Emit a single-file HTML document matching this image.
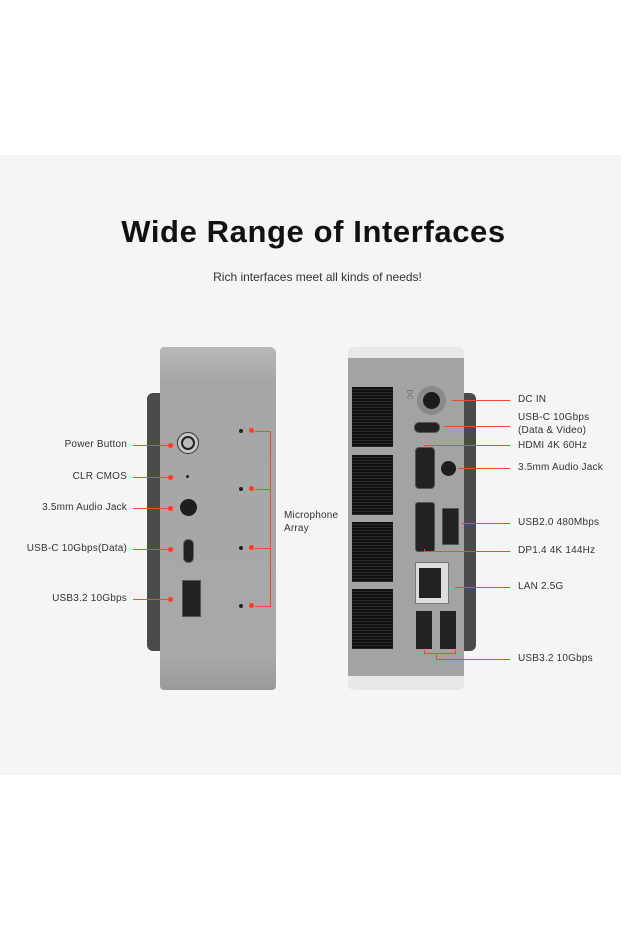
<!DOCTYPE html>
<html><head><style>
body{margin:0;width:621px;height:931px;background:#fff;position:relative;font-family:"Liberation Sans",sans-serif;overflow:hidden}
.a{position:absolute}
.band{left:0;top:155px;width:621px;height:620px;background:#f5f5f5}
.lbl{position:absolute;font-size:10px;color:#333;white-space:nowrap;letter-spacing:.2px}
.r{text-align:right}
.ln{position:absolute;height:0;border-top:1.5px solid #ef4a2a}
.dot{position:absolute;width:5px;height:5px;border-radius:50%;background:#ff3b1f}
.bd{position:absolute;width:4px;height:4px;border-radius:50%;background:#222}
.vl{position:absolute;width:0;border-left:1.5px solid #ef4a2a}
</style></head><body>
<div class="a band"></div>
<div class="a" style="left:0;top:214px;width:627px;text-align:center;font-size:31px;font-weight:bold;color:#111;letter-spacing:0.6px">Wide Range of Interfaces</div>
<div class="a" style="left:0;top:270px;width:635px;text-align:center;font-size:12px;color:#333">Rich interfaces meet all kinds of needs!</div>

<!-- left device -->
<div class="a" style="left:147px;top:393px;width:20px;height:258px;background:#4a4a4a;border-radius:6px 0 0 6px"></div>
<div class="a" style="left:160px;top:347px;width:116px;height:343px;background:linear-gradient(#b8b8b8,#a6a6a6 10%,#a8a8a8 90%,#9a9a9a);border-radius:4px 6px 4px 4px"></div>
<div class="a" style="left:177px;top:432px;width:22px;height:22px;border-radius:50%;border:1.5px solid #333;box-sizing:border-box;background:#c8c8c8"></div>
<div class="a" style="left:181px;top:436px;width:14px;height:14px;border-radius:50%;border:2px solid #222;box-sizing:border-box;background:#bbb"></div>
<div class="bd" style="left:186px;top:475px;width:3px;height:3px"></div>
<div class="a" style="left:180px;top:499px;width:17px;height:17px;border-radius:50%;background:#1e1e1e"></div>
<div class="a" style="left:183px;top:539px;width:9px;height:22px;border-radius:5px;background:#222;border:1px solid #666"></div>
<div class="a" style="left:182px;top:580px;width:17px;height:35px;background:#222;border:1px solid #555"></div>
<div class="bd" style="left:239px;top:429px"></div><div class="dot" style="left:249px;top:428px"></div>
<div class="bd" style="left:239px;top:487px"></div><div class="dot" style="left:249px;top:486px"></div>
<div class="bd" style="left:239px;top:546px"></div><div class="dot" style="left:249px;top:545px"></div>
<div class="bd" style="left:239px;top:604px"></div><div class="dot" style="left:249px;top:603px"></div>
<div class="ln" style="left:255px;top:431px;width:15px"></div>
<div class="ln" style="left:255px;top:489px;width:15px"></div>
<div class="ln" style="left:255px;top:548px;width:15px"></div>
<div class="ln" style="left:255px;top:606px;width:15px"></div>
<div class="vl" style="left:270px;top:431px;height:176px"></div>
<div class="lbl" style="left:284px;top:509px;line-height:13px">Microphone<br>Array</div>

<div class="lbl r" style="left:0;width:127px;top:439px">Power Button</div>
<div class="lbl r" style="left:0;width:127px;top:471px">CLR CMOS</div>
<div class="lbl r" style="left:0;width:127px;top:502px">3.5mm Audio Jack</div>
<div class="lbl r" style="left:0;width:127px;top:543px">USB-C 10Gbps(Data)</div>
<div class="lbl r" style="left:0;width:127px;top:593px">USB3.2 10Gbps</div>
<div class="ln" style="left:133px;top:445px;width:37px"></div><div class="dot" style="left:168px;top:443px"></div>
<div class="ln" style="left:133px;top:477px;width:37px"></div><div class="dot" style="left:168px;top:475px"></div>
<div class="ln" style="left:133px;top:508px;width:37px"></div><div class="dot" style="left:168px;top:506px"></div>
<div class="ln" style="left:133px;top:549px;width:37px"></div><div class="dot" style="left:168px;top:547px"></div>
<div class="ln" style="left:133px;top:599px;width:37px"></div><div class="dot" style="left:168px;top:597px"></div>

<!-- right device -->
<div class="a" style="left:455px;top:393px;width:21px;height:258px;background:#4a4a4a;border-radius:0 6px 6px 0"></div>
<div class="a" style="left:348px;top:347px;width:116px;height:343px;background:#e8e8e8;border-radius:6px"></div>
<div class="a" style="left:348px;top:358px;width:116px;height:318px;background:#a3a3a3"></div>
<div class="a" style="left:352px;top:387px;width:41px;height:60px;background:repeating-linear-gradient(#111 0 2px,#2a2a2a 2px 3px)"></div>
<div class="a" style="left:352px;top:455px;width:41px;height:60px;background:repeating-linear-gradient(#111 0 2px,#2a2a2a 2px 3px)"></div>
<div class="a" style="left:352px;top:522px;width:41px;height:60px;background:repeating-linear-gradient(#111 0 2px,#2a2a2a 2px 3px)"></div>
<div class="a" style="left:352px;top:589px;width:41px;height:60px;background:repeating-linear-gradient(#111 0 2px,#2a2a2a 2px 3px)"></div>
<div class="a" style="left:417px;top:386px;width:29px;height:29px;border-radius:50%;background:#8a8a8a"></div>
<div class="a" style="left:423px;top:392px;width:17px;height:17px;border-radius:50%;background:#1c1c1c"></div>
<div class="a" style="left:414px;top:422px;width:24px;height:9px;border-radius:5px;background:#222;border:1px solid #555"></div>
<div class="a" style="left:415px;top:447px;width:18px;height:40px;background:#222;border:1px solid #555;border-radius:4px"></div>
<div class="a" style="left:441px;top:461px;width:15px;height:15px;border-radius:50%;background:#1e1e1e"></div>
<div class="a" style="left:442px;top:508px;width:15px;height:35px;background:#222;border:1px solid #555"></div>
<div class="a" style="left:415px;top:502px;width:18px;height:48px;background:#222;border:1px solid #555;border-radius:3px"></div>
<div class="a" style="left:415px;top:562px;width:34px;height:42px;background:#ddd;border:1px solid #777;box-sizing:border-box"></div>
<div class="a" style="left:419px;top:568px;width:22px;height:30px;background:#222"></div>
<div class="a" style="left:416px;top:611px;width:16px;height:38px;background:#222"></div>
<div class="a" style="left:440px;top:611px;width:16px;height:38px;background:#222"></div>
<div class="a" style="left:404px;top:391px;font-size:7px;color:#666;transform:rotate(90deg)">DC</div>

<div class="lbl" style="left:518px;top:394px">DC IN</div>
<div class="lbl" style="left:518px;top:411px;line-height:13px">USB-C 10Gbps<br>(Data &amp; Video)</div>
<div class="lbl" style="left:518px;top:440px">HDMI 4K 60Hz</div>
<div class="lbl" style="left:518px;top:462px">3.5mm Audio Jack</div>
<div class="lbl" style="left:518px;top:517px">USB2.0 480Mbps</div>
<div class="lbl" style="left:518px;top:545px">DP1.4 4K 144Hz</div>
<div class="lbl" style="left:518px;top:581px">LAN 2.5G</div>
<div class="lbl" style="left:518px;top:653px">USB3.2 10Gbps</div>
<div class="ln" style="left:452px;top:400px;width:58px"></div>
<div class="ln" style="left:444px;top:426px;width:66px"></div>
<div class="ln" style="left:424px;top:445px;width:86px"></div><div class="vl" style="left:424px;top:445px;height:3px"></div>
<div class="ln" style="left:458px;top:468px;width:52px"></div>
<div class="ln" style="left:462px;top:523px;width:48px"></div>
<div class="ln" style="left:424px;top:551px;width:86px"></div><div class="vl" style="left:424px;top:549px;height:3px"></div>
<div class="ln" style="left:455px;top:587px;width:55px"></div>
<div class="ln" style="left:424px;top:653px;width:32px"></div>
<div class="vl" style="left:424px;top:650px;height:3px"></div>
<div class="vl" style="left:455px;top:650px;height:3px"></div>
<div class="vl" style="left:436px;top:653px;height:6px"></div>
<div class="ln" style="left:436px;top:659px;width:74px"></div>
</body></html>
